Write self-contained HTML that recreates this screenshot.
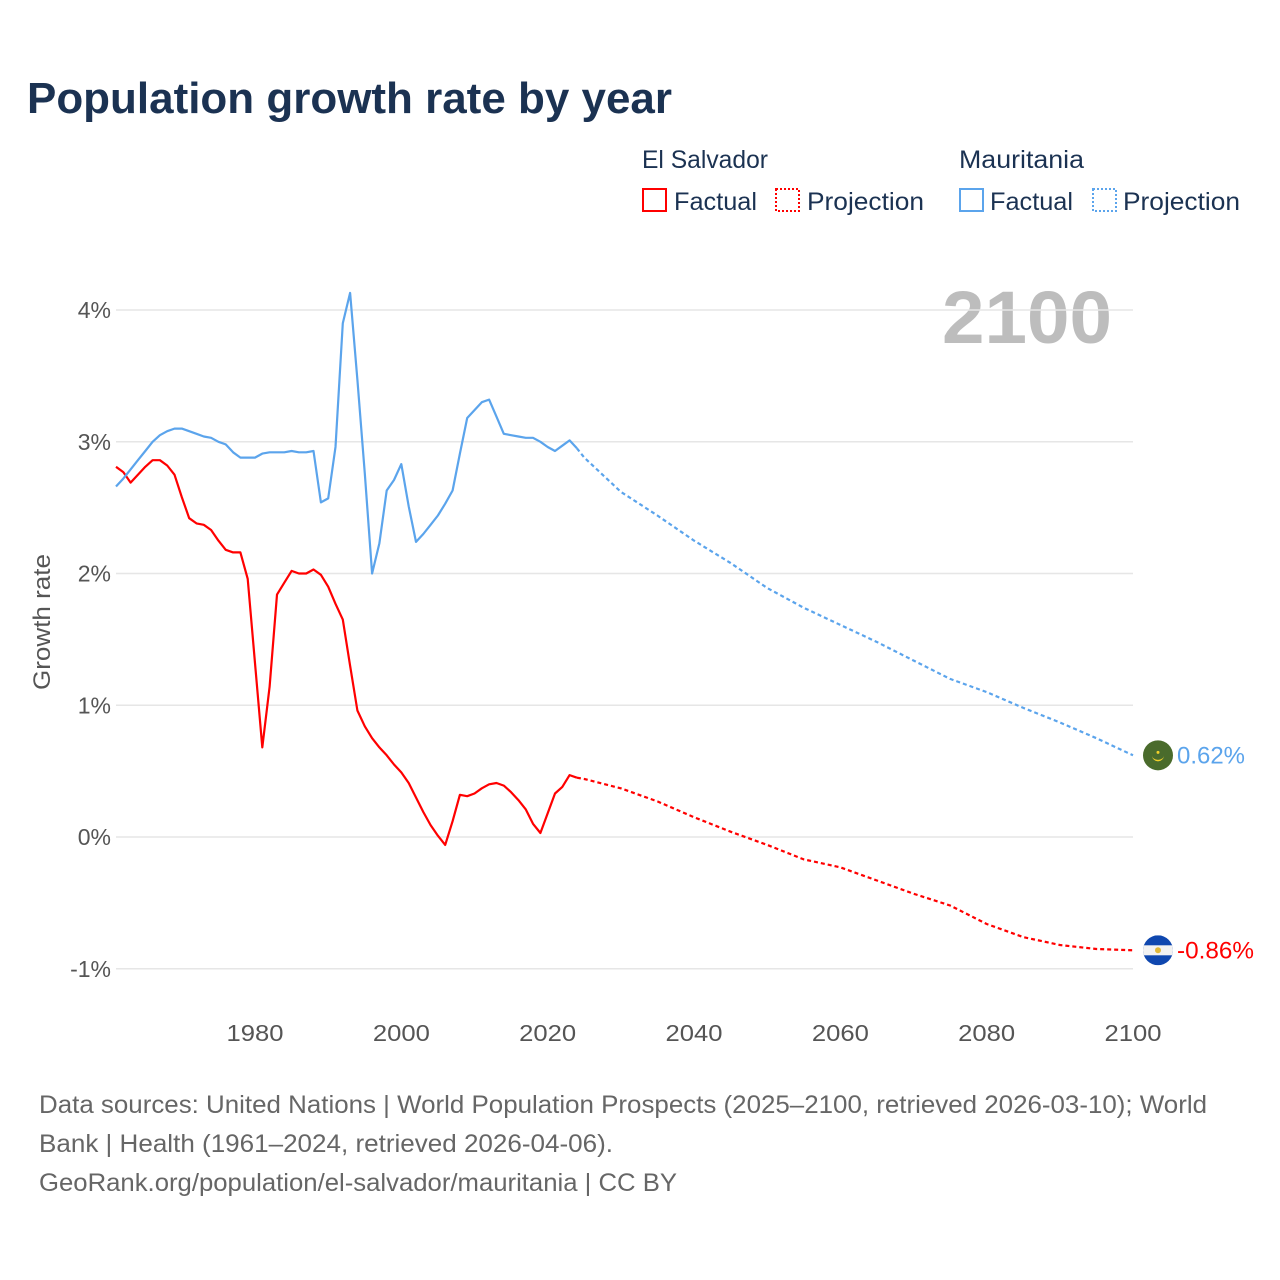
<!DOCTYPE html>
<html><head><meta charset="utf-8"><style>
body{margin:0;background:#fff;}
svg{display:block;font-family:"Liberation Sans",sans-serif;}
</style></head><body>
<svg id="chart" width="1280" height="1280" viewBox="0 0 1280 1280">
<rect width="1280" height="1280" fill="#fff"/>
<text x="27" y="113" font-size="44" font-weight="bold" fill="#1b3252" textLength="645" lengthAdjust="spacingAndGlyphs">Population growth rate by year</text>

<g font-size="25" fill="#1b3252">
<text x="642" y="168" textLength="126" lengthAdjust="spacingAndGlyphs">El Salvador</text>
<rect x="643" y="189" width="23" height="22" fill="none" stroke="#ff0000" stroke-width="2"/>
<text x="674" y="210" textLength="83" lengthAdjust="spacingAndGlyphs">Factual</text>
<rect x="776" y="189" width="23" height="22" fill="none" stroke="#ff0000" stroke-width="2" stroke-dasharray="2,2"/>
<text x="807" y="210" textLength="117" lengthAdjust="spacingAndGlyphs">Projection</text>
<text x="959" y="168" textLength="125" lengthAdjust="spacingAndGlyphs">Mauritania</text>
<rect x="960" y="189" width="23" height="22" fill="none" stroke="#5ba4ec" stroke-width="2"/>
<text x="990" y="210" textLength="83" lengthAdjust="spacingAndGlyphs">Factual</text>
<rect x="1093" y="189" width="23" height="22" fill="none" stroke="#5ba4ec" stroke-width="2" stroke-dasharray="2,2"/>
<text x="1123" y="210" textLength="117" lengthAdjust="spacingAndGlyphs">Projection</text>
</g>

<text x="1112" y="343" text-anchor="end" font-size="74" font-weight="bold" fill="#bdbdbd" textLength="170" lengthAdjust="spacingAndGlyphs">2100</text>

<g id="grid"></g>
<g id="series"></g>

<text transform="translate(50,622) rotate(-90)" text-anchor="middle" font-size="24" fill="#555" textLength="136" lengthAdjust="spacingAndGlyphs">Growth rate</text>

<g font-size="25" fill="#666">
<text x="39" y="1113" textLength="1168" lengthAdjust="spacingAndGlyphs">Data sources: United Nations | World Population Prospects (2025–2100, retrieved 2026-03-10); World</text>
<text x="39" y="1152" textLength="574" lengthAdjust="spacingAndGlyphs">Bank | Health (1961–2024, retrieved 2026-04-06).</text>
<text x="39" y="1191" textLength="638" lengthAdjust="spacingAndGlyphs">GeoRank.org/population/el-salvador/mauritania | CC BY</text>
</g>
</svg>
<script>
const yTicks=[4,3,2,1,0,-1];
const yTickLabels=["4%","3%","2%","1%","0%","-1%"];
const xTicks=[1980,2000,2020,2040,2060,2080,2100];
const esFactualYears=[1961,1962,1963,1964,1965,1966,1967,1968,1969,1970,1971,1972,1973,1974,1975,1976,1977,1978,1979,1980,1981,1982,1983,1984,1985,1986,1987,1988,1989,1990,1991,1992,1993,1994,1995,1996,1997,1998,1999,2000,2001,2002,2003,2004,2005,2006,2007,2008,2009,2010,2011,2012,2013,2014,2015,2016,2017,2018,2019,2020,2021,2022,2023,2024];
const esFactual=[2.81,2.77,2.69,2.75,2.81,2.86,2.86,2.82,2.75,2.58,2.42,2.38,2.37,2.33,2.25,2.18,2.16,2.16,1.96,1.32,0.68,1.14,1.84,1.93,2.02,2.0,2.0,2.03,1.99,1.9,1.77,1.65,1.3,0.96,0.84,0.75,0.68,0.62,0.55,0.49,0.41,0.3,0.19,0.09,0.01,-0.06,0.12,0.32,0.31,0.33,0.37,0.4,0.41,0.39,0.34,0.28,0.21,0.1,0.03,0.18,0.33,0.38,0.47,0.45];
const mrFactual=[2.66,2.72,2.79,2.86,2.93,3.0,3.05,3.08,3.1,3.1,3.08,3.06,3.04,3.03,3.0,2.98,2.92,2.88,2.88,2.88,2.91,2.92,2.92,2.92,2.93,2.92,2.92,2.93,2.54,2.57,2.96,3.9,4.13,3.47,2.76,2.0,2.23,2.63,2.71,2.83,2.51,2.24,2.3,2.37,2.44,2.53,2.63,2.91,3.18,3.24,3.3,3.32,3.19,3.06,3.05,3.04,3.03,3.03,3.0,2.96,2.93,2.97,3.01,2.95];
const projYears=[2024,2025,2030,2035,2040,2045,2050,2055,2060,2065,2070,2075,2080,2085,2090,2095,2100];
const esProjection=[0.45,0.44,0.37,0.27,0.15,0.04,-0.06,-0.17,-0.23,-0.33,-0.43,-0.52,-0.66,-0.76,-0.82,-0.85,-0.86];
const mrProjection=[2.95,2.88,2.62,2.44,2.25,2.08,1.89,1.74,1.61,1.48,1.34,1.2,1.1,0.98,0.87,0.75,0.62];

const NS="http://www.w3.org/2000/svg";
const xs=y=>116+(y-1961)*(1133-116)/(2100-1961);
const ys=v=>837-v*131.75;
function mk(tag,attrs,parent){const e=document.createElementNS(NS,tag);for(const k in attrs)e.setAttribute(k,attrs[k]);parent.appendChild(e);return e;}
const grid=document.getElementById('grid'),ser=document.getElementById('series');
yTicks.forEach((t,i)=>{
  const l=mk('line',{x1:116,x2:1133,y1:ys(t),y2:ys(t),stroke:'#e6e6e6','stroke-width':1.5},grid);
  
  
  const tx=mk('text',{x:111,y:ys(t)+8,'text-anchor':'end','font-size':23,fill:'#555'},grid);
  tx.textContent=yTickLabels[i];
  
  
});
xTicks.forEach(t=>{
  const tx=mk('text',{x:xs(t),y:1041,'text-anchor':'middle','font-size':23,fill:'#555',textLength:57,lengthAdjust:'spacingAndGlyphs'},grid);
  tx.textContent=t;
  
  
});
function line(years,vals,color,dash,name){
  const d=years.map((y,i)=>(i?'L':'M')+xs(y).toFixed(1)+','+ys(vals[i]).toFixed(1)).join('');
  const p=mk('path',{d:d,fill:'none',stroke:color,'stroke-width':2.2,'stroke-linejoin':'round'},ser);
  if(dash)p.setAttribute('stroke-dasharray','4,3');
  
  
}
line(esFactualYears,esFactual,'#ff0000',false,'el-salvador-factual-line');
line(esFactualYears,mrFactual,'#5ba4ec',false,'mauritania-factual-line');
line(projYears,esProjection,'#ff0000',true,'el-salvador-projection-line');
line(projYears,mrProjection,'#5ba4ec',true,'mauritania-projection-line');

const mrY=ys(mrProjection[mrProjection.length-1]),esY=ys(esProjection[esProjection.length-1]);
const g1=mk('g',{},ser);


mk('circle',{cx:1158,cy:mrY,r:15,fill:'#4a6b2c'},g1);
mk('path',{d:`M1152,${mrY} a6,6 0 0 0 12,0 a6,4.5 0 0 1 -12,0z`,fill:'#f2d02b'},g1);
mk('circle',{cx:1158,cy:mrY-3,r:1.5,fill:'#f2d02b'},g1);
const t1=mk('text',{x:1177,y:mrY+8,'font-size':24,fill:'#5ba4ec',textLength:68,lengthAdjust:'spacingAndGlyphs'},ser);
t1.textContent=mrProjection[mrProjection.length-1].toFixed(2)+'%';


const g2=mk('g',{},ser);


mk('clipPath',{id:'fc'},g2);
mk('circle',{cx:1158,cy:esY,r:15},g2.lastChild);
const fg=mk('g',{'clip-path':'url(#fc)'},g2);
mk('rect',{x:1143,y:esY-15,width:30,height:30,fill:'#0f47af'},fg);
mk('rect',{x:1143,y:esY-5,width:30,height:10,fill:'#f2f2f2'},fg);
mk('circle',{cx:1158,cy:esY,r:3,fill:'#e0b83a'},g2);
const t2=mk('text',{x:1177,y:esY+8,'font-size':24,fill:'#ff0000',textLength:77,lengthAdjust:'spacingAndGlyphs'},ser);
t2.textContent=esProjection[esProjection.length-1].toFixed(2)+'%';


</script>
</body></html>
